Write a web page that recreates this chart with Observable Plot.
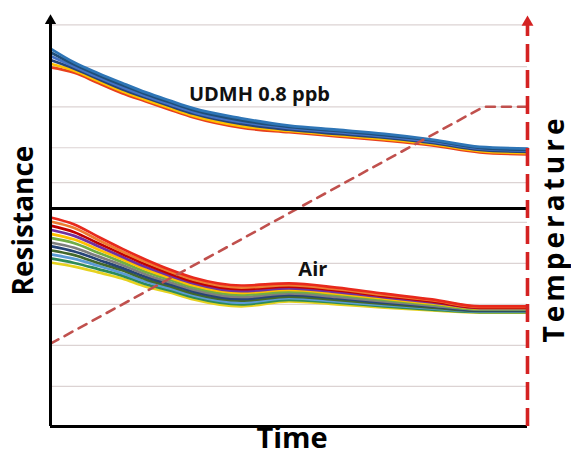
<!DOCTYPE html>
<html><head><meta charset="utf-8">
<script src="https://cdn.jsdelivr.net/npm/d3@7"></script>
<script src="https://cdn.jsdelivr.net/npm/@observablehq/plot@0.6"></script>
<style>body{margin:0;background:#fff}</style>
</head><body><div id="chart"></div>
<script>
// Time samples (arbitrary units, 0..100)
const timePoints = [0, 5, 10, 15, 20, 25, 30, 40, 50, 60, 70, 80, 90, 100];

// UDMH 0.8 ppb sensor responses (upper panel), resistance in a.u.
const udmhSeries = [
  [8.76, 8.63, 8.38, 8.13, 7.93, 7.73, 7.54, 7.29, 7.18, 7.08, 6.98, 6.86, 6.69, 6.64],
  [8.85, 8.68, 8.43, 8.18, 7.97, 7.77, 7.58, 7.33, 7.21, 7.11, 7.01, 6.89, 6.72, 6.67],
  [8.94, 8.73, 8.48, 8.23, 8.02, 7.82, 7.63, 7.38, 7.24, 7.14, 7.05, 6.92, 6.75, 6.70],
  [9.04, 8.78, 8.52, 8.28, 8.06, 7.86, 7.67, 7.43, 7.28, 7.18, 7.08, 6.95, 6.78, 6.73],
  [9.13, 8.83, 8.57, 8.33, 8.11, 7.91, 7.72, 7.47, 7.31, 7.21, 7.11, 6.98, 6.80, 6.75],
  [9.22, 8.88, 8.62, 8.38, 8.15, 7.95, 7.76, 7.52, 7.34, 7.24, 7.14, 7.00, 6.82, 6.78]
];
const udmhColors = ["#e8401c", "#ffc000", "#264478", "#4472c4", "#1f4e79", "#2e75b6"];

// Air sensor responses (lower panel), resistance in a.u.
const airSeries = [
  [4.00, 3.90, 3.76, 3.61, 3.41, 3.27, 3.10, 2.93, 3.05, 2.98, 2.90, 2.83, 2.78, 2.78],
  [4.10, 3.99, 3.84, 3.68, 3.47, 3.32, 3.15, 2.98, 3.09, 3.02, 2.93, 2.85, 2.79, 2.79],
  [4.20, 4.09, 3.92, 3.74, 3.53, 3.37, 3.20, 3.02, 3.13, 3.05, 2.96, 2.88, 2.81, 2.81],
  [4.30, 4.18, 3.99, 3.81, 3.59, 3.42, 3.24, 3.07, 3.17, 3.09, 2.99, 2.90, 2.82, 2.82],
  [4.40, 4.27, 4.07, 3.87, 3.65, 3.47, 3.29, 3.11, 3.21, 3.13, 3.02, 2.93, 2.83, 2.83],
  [4.49, 4.36, 4.15, 3.94, 3.71, 3.52, 3.34, 3.16, 3.25, 3.16, 3.05, 2.95, 2.85, 2.85],
  [4.60, 4.47, 4.24, 4.01, 3.77, 3.58, 3.39, 3.21, 3.29, 3.21, 3.09, 2.98, 2.86, 2.86],
  [4.70, 4.56, 4.32, 4.08, 3.83, 3.63, 3.44, 3.26, 3.33, 3.24, 3.12, 3.00, 2.88, 2.88],
  [4.80, 4.65, 4.40, 4.14, 3.89, 3.68, 3.49, 3.30, 3.37, 3.28, 3.15, 3.03, 2.89, 2.89],
  [4.90, 4.74, 4.47, 4.21, 3.95, 3.73, 3.53, 3.35, 3.41, 3.32, 3.18, 3.05, 2.90, 2.90],
  [5.00, 4.84, 4.55, 4.27, 4.01, 3.78, 3.58, 3.39, 3.45, 3.35, 3.21, 3.08, 2.92, 2.92],
  [5.10, 4.93, 4.63, 4.34, 4.07, 3.83, 3.63, 3.44, 3.49, 3.39, 3.24, 3.10, 2.93, 2.93]
];
const airColors = ["#e6d21f", "#2e8b57", "#5b9bd5", "#43682b", "#264478", "#7f7f7f",
                   "#70ad47", "#ffc000", "#7030a0", "#c00000", "#ed7d31", "#e8291c"];

// Heater temperature ramp (right axis, same a.u. frame)
const tempTime = [0, 90.8, 100];
const tempValues = [2.02, 7.80, 7.80];

// Horizontal gridlines and panel divider
const gridValues = [0.98, 1.98, 2.98, 3.98, 4.98, 5.95, 6.80, 7.80, 8.78, 9.80];
const dividerValue = 5.32;

// Panel labels
const panelLabels = ["UDMH 0.8 ppb", "Air"];
const panelLabelX = [43.8, 55.0];
const panelLabelY = [8.10, 3.83];

const toRows = (series, colors, prefix) =>
  series.flatMap((vals, k) => vals.map((v, i) => ({t: timePoints[i], v, series: prefix + k, color: colors[k]})));
const udmhRows = toRows(udmhSeries, udmhColors, "U");
const airRows = toRows(airSeries, airColors, "A");
const tempRows = tempTime.map((t, i) => ({t, v: tempValues[i]}));
const labelRows = panelLabels.map((s, i) => ({s, x: panelLabelX[i], y: panelLabelY[i]}));

const chart = Plot.plot({
  width: 571, height: 462,
  marginLeft: 50, marginRight: 44, marginTop: 12, marginBottom: 36,
  x: {domain: [0, 100], axis: null},
  y: {domain: [0, 10.1], axis: null},
  color: {type: "identity"},
  style: {fontFamily: "'Open Sans', sans-serif", background: "#fff"},
  marks: [
    Plot.ruleY(gridValues, {x1: 0, x2: 100, stroke: "#dcd3d3", strokeWidth: 1.2}),
    Plot.line(udmhRows, {x: "t", y: "v", z: "series", stroke: "color", strokeWidth: 2.8, curve: "monotone-x"}),
    Plot.line(airRows, {x: "t", y: "v", z: "series", stroke: "color", strokeWidth: 2.7, curve: "monotone-x"}),
    Plot.line(tempRows, {x: "t", y: "v", stroke: "#c0504d", strokeWidth: 2.6, strokeDasharray: "9,7"}),
    Plot.ruleY([dividerValue], {x1: 0, x2: 100, stroke: "#000", strokeWidth: 3}),
    Plot.ruleY([0], {x1: 0, x2: 100, stroke: "#000", strokeWidth: 3.2}),
    Plot.ruleX([0], {y1: 0, y2: 9.85, stroke: "#000", strokeWidth: 3}),
    Plot.ruleX([100], {y1: 0, y2: 9.8, stroke: "#d42222", strokeWidth: 3.6, strokeDasharray: "18,8"}),
    Plot.dot([0], {x: 0, y: 9.9, symbol: "triangle", r: 4.2, fill: "#000", stroke: null}),
    Plot.dot([0], {x: 100, y: 9.86, symbol: "triangle", r: 4.4, fill: "#d42222", stroke: null}),
    Plot.text(labelRows, {x: "x", y: "y", text: "s", fontSize: 20, fontWeight: "bold", fill: "#111"}),
    Plot.text(["Resistance"], {frameAnchor: "left", dx: -26, dy: 1, rotate: -90, textAnchor: "middle", fontSize: 28, fontWeight: "bold", fill: "#000"}),
    Plot.text(["Temperature"], {frameAnchor: "right", dx: 28, dy: 11, rotate: -90, textAnchor: "middle", fontSize: 28, fontWeight: "bold", fill: "#000"}),
    Plot.text(["Time"], {frameAnchor: "bottom", dx: 3, dy: 21, textAnchor: "middle", fontSize: 29, fontWeight: "bold", fill: "#000"})
  ]
});
d3.select(chart).selectAll("text")
  .filter(function () { return this.textContent === "Temperature"; })
  .attr("textLength", 224).attr("lengthAdjust", "spacing");
document.getElementById("chart").appendChild(chart);
</script>
</body></html>
